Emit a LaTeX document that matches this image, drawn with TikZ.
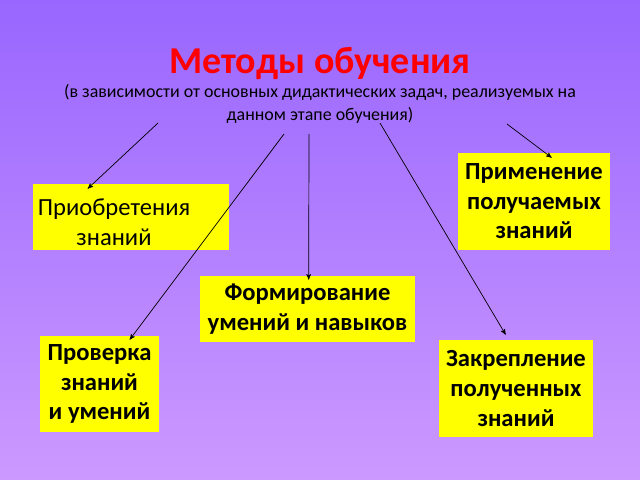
\documentclass[tikz,border=0pt]{standalone}
\usepackage{fontspec}
\setmainfont{Carlito}
\usetikzlibrary{arrows,positioning}
\definecolor{slidetop}{HTML}{9966FF}
\definecolor{slidebottom}{HTML}{CC99FF}
\definecolor{boxyellow}{HTML}{FFFF00}
\tikzset{
	method/.style={
		rectangle,
		fill=boxyellow,
		font=\bfseries\fontsize{17.5}{21}\selectfont,
		align=center,
		inner sep=0pt
	},
	link/.style={
		->,
		line width=0.5pt,
		draw=black
	}
}

\begin{document}
\begin{tikzpicture}[x=0.025cm,y=-0.025cm,>=stealth']
		\shade [top color=slidetop,bottom color=slidebottom] (0,0) rectangle (640,480);
		\useasboundingbox (0,0) rectangle (640,480);
		\node [text=red,font=\bfseries\fontsize{27}{32}\selectfont] (title) at (320,63) {Методы обучения};
		\node [align=center,font=\fontsize{12.75}{16.4}\selectfont] (sub) at (320,104) {(в зависимости от основных дидактических задач, реализуемых на\\данном этапе обучения)};
		\node [method,minimum width=4.9cm,minimum height=1.65cm] (acq) at (131,217) {};
		\node [align=center,font=\fontsize{17.5}{21}\selectfont] (acqtext) at (114,222) {Приобретения\\знаний};
		\node [method,minimum width=3.8cm,minimum height=2.425cm] (app) at (534,201.5) {Применение\\получаемых\\знаний};
		\node [method,minimum width=5.375cm,minimum height=1.65cm] (form) at (307.5,309) {Формирование\\умений и навыков};
		\node [method,minimum width=2.975cm,minimum height=2.4cm] (check) at (99.5,384) {Проверка\\знаний\\и умений};
		\node [method,minimum width=3.85cm,minimum height=2.425cm] (fix) at (516,388.5) {Закрепление\\полученных\\знаний};
		\coordinate (s1) at (158,123);
		\coordinate (s2) at (284,134);
		\coordinate (s3) at (309,134);
		\coordinate (s4) at (380,123);
		\coordinate (s5) at (507,124);
		\draw [link] (s1) -- ([shift={(55,5)}]acq.north west);
		\draw [link] (s2) -- ([shift={(90,4)}]check.north west);
		\draw [link] (s3) -- ([shift={(109,4)}]form.north west);
		\draw [link] (s4) -- ([shift={(67,-5)}]fix.north west);
		\draw [link] (s5) -- ([shift={(94,5)}]app.north west);
\end{tikzpicture}
\end{document}
